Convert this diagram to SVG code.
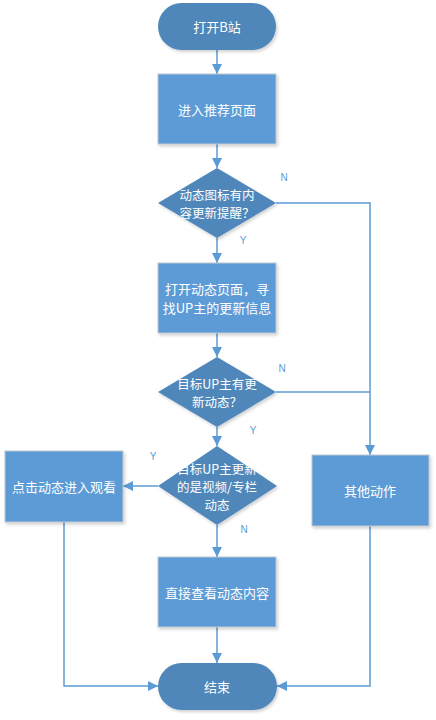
<svg xmlns="http://www.w3.org/2000/svg" width="436" height="720" viewBox="0 0 436 720">
<defs>
<filter id="sh" x="-10%" y="-10%" width="130%" height="130%">
<feDropShadow dx="1.5" dy="2" stdDeviation="1.5" flood-color="#000" flood-opacity="0.18"/>
</filter>
<marker id="ah" viewBox="0 0 10 10" refX="10" refY="5" markerWidth="10" markerHeight="10" markerUnits="userSpaceOnUse" orient="auto">
<path d="M0,0 L10,5 L0,10 Z" fill="#5B9BD5"/>
</marker>
<style>
.term{fill:#4F87BA;filter:url(#sh)}
.box{fill:#5B9BD5;stroke:#BFC7CF;stroke-width:1;filter:url(#sh)}
.dia{fill:#4F87BA;filter:url(#sh)}
.t{font-family:"Noto Sans CJK SC","Liberation Sans",sans-serif;font-size:13px;fill:#fff;text-anchor:middle;dominant-baseline:central}
.td{font-size:12.5px}
.lbl{font-family:"Liberation Sans",sans-serif;font-size:10px;fill:#5B9BD5;text-anchor:middle;dominant-baseline:central}
.ln{fill:none;stroke:#5B9BD5;stroke-width:1.5}
</style>
</defs>
<g id="connectors">
<path class="ln" d="M217,50 V74" marker-end="url(#ah)"/>
<path class="ln" d="M217,144 V168" marker-end="url(#ah)"/>
<path class="ln" d="M217,238 V263" marker-end="url(#ah)"/>
<path class="ln" d="M217,333 V357" marker-end="url(#ah)"/>
<path class="ln" d="M217,427 V446" marker-end="url(#ah)"/>
<path class="ln" d="M217,525 V557" marker-end="url(#ah)"/>
<path class="ln" d="M217,627 V663" marker-end="url(#ah)"/>
<path class="ln" d="M276,203 H370 V455" marker-end="url(#ah)"/>
<path class="ln" d="M276,392 H370"/>
<path class="ln" d="M158,486 H123" marker-end="url(#ah)"/>
<path class="ln" d="M64,522 V686 H158" marker-end="url(#ah)"/>
<path class="ln" d="M370,526 V686 H277" marker-end="url(#ah)"/>
<text class="lbl" x="284" y="177">N</text>
<text class="lbl" x="243" y="240">Y</text>
<text class="lbl" x="282" y="368">N</text>
<text class="lbl" x="253" y="430">Y</text>
<text class="lbl" x="153" y="456">Y</text>
<text class="lbl" x="244" y="529">N</text>
</g>
<g id="start">
<rect class="term" x="158" y="3" width="118" height="47" rx="23.5"/>
<text class="t" x="217" y="26.5">打开B站</text>
</g>
<g id="recommend">
<rect class="box" x="158" y="74" width="118" height="70"/>
<text class="t" x="217" y="109">进入推荐页面</text>
</g>
<g id="check-icon">
<polygon class="dia" points="217,168 276,203 217,238 158,203"/>
<text class="t td" x="217" y="194">动态图标有内</text>
<text class="t td" x="217" y="212">容更新提醒？</text>
</g>
<g id="open-dynamic">
<rect class="box" x="158" y="263" width="118" height="70"/>
<text class="t" x="217" y="288">打开动态页面，寻</text>
<text class="t" x="217" y="307">找UP主的更新信息</text>
</g>
<g id="check-up">
<polygon class="dia" points="217,357 276,392 217,427 158,392"/>
<text class="t td" x="217" y="383">目标UP主有更</text>
<text class="t td" x="217" y="401">新动态？</text>
</g>
<g id="check-type">
<polygon class="dia" points="217,446 277,486 217,525 158,486"/>
<text class="t td" x="217" y="468">目标UP主更新</text>
<text class="t td" x="217" y="486">的是视频/专栏</text>
<text class="t td" x="217" y="504">动态</text>
</g>
<g id="watch">
<rect class="box" x="5" y="451" width="118" height="71"/>
<text class="t" x="64" y="486.5">点击动态进入观看</text>
</g>
<g id="other">
<rect class="box" x="312" y="455" width="117" height="71"/>
<text class="t" x="370" y="490.5">其他动作</text>
</g>
<g id="view">
<rect class="box" x="158" y="557" width="118" height="70"/>
<text class="t" x="217" y="592">直接查看动态内容</text>
</g>
<g id="end">
<rect class="term" x="158" y="663" width="119" height="47" rx="23.5"/>
<text class="t" x="217" y="686.5">结束</text>
</g>
</svg>
